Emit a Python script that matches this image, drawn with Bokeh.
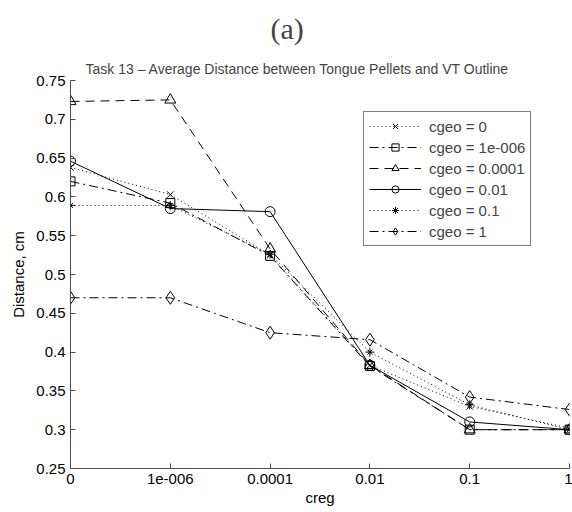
from bokeh.plotting import figure
from bokeh.models import FixedTicker, Legend, LegendItem, Title
from bokeh.embed import file_html
from bokeh.resources import INLINE

# ---- data ----
creg_labels = ["0", "1e-006", "0.0001", "0.01", "0.1", "1"]
y_ticks = [0.25, 0.3, 0.35, 0.4, 0.45, 0.5, 0.55, 0.6, 0.65, 0.7, 0.75]
y_tick_labels = ["0.25", "0.3", "0.35", "0.4", "0.45", "0.5", "0.55", "0.6", "0.65", "0.7", "0.75"]

series_names = ["cgeo = 0", "cgeo = 1e-006", "cgeo = 0.0001", "cgeo = 0.01", "cgeo = 0.1", "cgeo = 1"]
cgeo_0 = [0.638, 0.603, 0.525, 0.383, 0.330, 0.302]
cgeo_1e6 = [0.620, 0.592, 0.524, 0.382, 0.300, 0.300]
cgeo_1e4 = [0.723, 0.725, 0.533, 0.383, 0.300, 0.300]
cgeo_001 = [0.646, 0.585, 0.581, 0.383, 0.310, 0.300]
cgeo_01 = [0.589, 0.589, 0.526, 0.400, 0.332, 0.300]
cgeo_1 = [0.470, 0.470, 0.425, 0.416, 0.342, 0.326]

title_text = "Task 13 \u2013 Average Distance between Tongue Pellets and VT Outline"

FONT = "Liberation Sans"
AX = "#4d4d4d"

xs = list(range(len(creg_labels)))

p = figure(width=572, height=512, output_backend="svg", toolbar_location=None,
           x_range=(0, len(creg_labels) - 1), y_range=(0.25, 0.75),
           min_border_left=70, min_border_right=3, min_border_bottom=44,
           min_border_top=0)
p.outline_line_color = None
p.xgrid.visible = False
p.ygrid.visible = False
p.background_fill_color = "white"
p.border_fill_color = "white"

# top-most line: "(a)"
p.title.text = "(a)"
p.title.text_font = "Liberation Serif"
p.title.text_font_size = "30px"
p.title.text_font_style = "normal"
p.title.align = "left"
p.title.offset = 200
p.title.standoff = 19

# chart title, nearest to the frame
main_title = Title(text=title_text, text_font=FONT, text_font_size="14px",
                   text_font_style="normal", align="left", offset=15, standoff=8)
p.add_layout(main_title, "above")

for ax in (p.xaxis[0], p.yaxis[0]):
    ax.axis_line_color = AX
    ax.major_tick_line_color = AX
    ax.major_tick_in = 5
    ax.major_tick_out = 0
    ax.minor_tick_line_color = None
    ax.major_label_text_font = FONT
    ax.major_label_text_font_size = "15px"
    ax.major_label_text_color = "black"
    ax.axis_label_text_font = FONT
    ax.axis_label_text_font_size = "15px"
    ax.axis_label_text_font_style = "normal"
    ax.axis_label_text_color = "black"

p.xaxis.ticker = FixedTicker(ticks=xs)
p.xaxis.major_label_overrides = {i: s for i, s in zip(xs, creg_labels)}
p.xaxis.major_label_standoff = 5
p.xaxis.axis_label = "creg"
p.xaxis.axis_label_standoff = 2

p.yaxis.ticker = FixedTicker(ticks=y_ticks)
p.yaxis.major_label_overrides = {t: s for t, s in zip(y_ticks, y_tick_labels)}
p.yaxis.major_label_standoff = 5
p.yaxis.axis_label = "Distance, cm"
p.yaxis.axis_label_standoff = 6

DOT = "1 3"
DASH = "9 6"
DASHDOT = "9 4 2 4"

specs = [
    (cgeo_0, DOT, ["x"], 9),
    (cgeo_1e6, DASHDOT, ["square"], 9),
    (cgeo_1e4, DASH, ["triangle"], 11),
    (cgeo_001, "solid", ["circle"], 10),
    (cgeo_01, DOT, ["cross", "x"], 9),
    (cgeo_1, DASHDOT, ["diamond"], 13),
]

items = []
for name, (ys, dash, markers, size) in zip(series_names, specs):
    rs = []
    ln = p.line(xs, ys, line_color="black", line_width=1, line_dash=dash)
    rs.append(ln)
    for m in markers:
        s = size if m != "x" or len(markers) == 1 else 7
        r = p.scatter(xs, ys, marker=m, size=s, fill_color=None,
                      line_color="black", line_width=1)
        rs.append(r)
    items.append(LegendItem(label=name, renderers=rs))

legend = Legend(items=items, location=(293, 222))
legend.label_text_font = FONT
legend.label_text_font_size = "15px"
legend.border_line_color = "black"
legend.border_line_width = 1
legend.background_fill_color = "white"
legend.background_fill_alpha = 1
legend.glyph_width = 52
legend.glyph_height = 18
legend.label_height = 18
legend.spacing = 3
legend.padding = 5
legend.margin = 0
legend.label_standoff = 8
p.add_layout(legend, "center")

open("out.html", "w").write(file_html(p, INLINE))
